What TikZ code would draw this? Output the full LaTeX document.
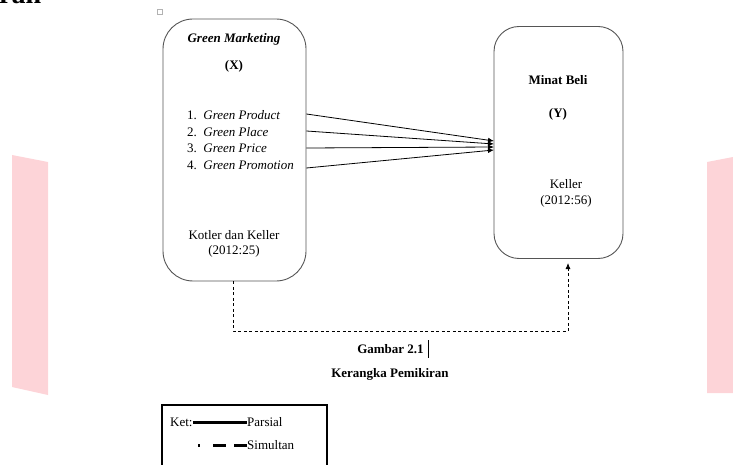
\documentclass[tikz,border=0pt]{standalone}
\usepackage{fontspec}
\setmainfont{Liberation Serif}
\usetikzlibrary{arrows.meta}
\definecolor{pinkbar}{RGB}{253,212,216}
\definecolor{boxline}{RGB}{85,85,85}
\tikzset{
  varbox/.style={draw=boxline, line width=0.9pt, minimum width=#1},
  txt/.style={inner sep=0pt, anchor=base, font=\fontsize{13}{15}\selectfont},
  item/.style={txt, anchor=base west},
  parsial/.style={line width=0.8pt, -{Latex[length=6pt,width=5pt]}},
  simultan/.style={line width=0.8pt, dash pattern=on 3pt off 2.5pt}
}
\begin{document}
\begin{tikzpicture}[x=1pt,y=-1pt]
    \useasboundingbox (0,0) rectangle (733,465);
    \clip (0,0) rectangle (733,465);
    % background of the scanned page
    \fill[pinkbar] (12,155) -- (48,162) -- (48,395) -- (12,387) -- cycle;
    \fill[pinkbar] (707,162) -- (733,157) -- (733,393) -- (707,393) -- cycle;
    \node[anchor=base west, inner sep=0pt, font=\bfseries\fontsize{28}{28}\selectfont] (head) at (-1,3.5) {ran};
    \draw[gray!60, line width=0.5pt] (157,9) rectangle (162,14);

    % the two variables
    \node[varbox=143pt, minimum height=262pt, rounded corners=30pt] (gm) at (234.5,150) {};
    \node[varbox=129pt, minimum height=232pt, rounded corners=25pt] (mb) at (558.5,142.5) {};

    \node[txt, font=\fontsize{13}{15}\selectfont\bfseries\itshape] (gmtitle) at (234,42.5) {Green Marketing};
    \node[txt, font=\fontsize{13}{15}\selectfont\bfseries] (gmx) at (234,69.5) {(X)};
    \node[item] (i1) at (187,119.5) {1.\ \ \textit{Green Product}};
    \node[item] (i2) at (187,136.5) {2.\ \ \textit{Green Place}};
    \node[item] (i3) at (187,152.5) {3.\ \ \textit{Green Price}};
    \node[item] (i4) at (187,169.5) {4.\ \ \textit{Green Promotion}};
    \node[txt] (gmsrc) at (234,239.5) {Kotler dan Keller};
    \node[txt] (gmyr) at (234,254.5) {(2012:25)};

    \node[txt, font=\fontsize{13}{15}\selectfont\bfseries] (mbtitle) at (558,84.5) {Minat Beli};
    \node[txt, font=\fontsize{13}{15}\selectfont\bfseries] (mby) at (558,117.5) {(Y)};
    \node[txt] (mbsrc) at (566,188.5) {Keller};
    \node[txt] (mbyr) at (566,204.5) {(2012:56)};

    % partial effects
    \coordinate (t1) at (494,141);
    \coordinate (t2) at (494,144);
    \coordinate (t3) at (494,147);
    \coordinate (t4) at (494,150);
    \draw[parsial] (gm.east |- 0,114) -- (t1);
    \draw[parsial] (gm.east |- 0,131) -- (t2);
    \draw[parsial] (gm.east |- 0,148) -- (t3);
    \draw[parsial] (gm.east |- 0,168) -- (t4);

    % simultaneous effect
    \coordinate (sim) at (568,331);
    \draw[simultan] (gm.south -| 233,0) |- (sim);
    \draw[simultan, -{Latex[length=6pt,width=5pt]}] (sim) -- (sim |- 0,263);

    % caption
    \node[txt, font=\fontsize{13}{15}\selectfont\bfseries] (cap1) at (390.5,353.5) {Gambar 2.1};
    \draw[line width=0.6pt] (428,340) -- (428,358);
    \node[txt, font=\fontsize{13}{15}\selectfont\bfseries] (cap2) at (390,377.5) {Kerangka Pemikiran};

    % legend
    \draw[line width=1.8pt] (162,405) rectangle (327,480);
    \node[item] (ket) at (170,426.5) {Ket:};
    \node[item] (lpar) at (247,426.5) {Parsial};
    \node[item] (lsim) at (247,449.5) {Simultan};
    \draw[line width=3pt] (ket.base east |- 0,422) -- (lpar.base west |- 0,422);
    \draw[line width=3pt, dash pattern=on 2pt off 13pt on 13pt off 8pt on 13pt] (198,445) -- (lsim.base west |- 0,445);
\end{tikzpicture}
\end{document}
